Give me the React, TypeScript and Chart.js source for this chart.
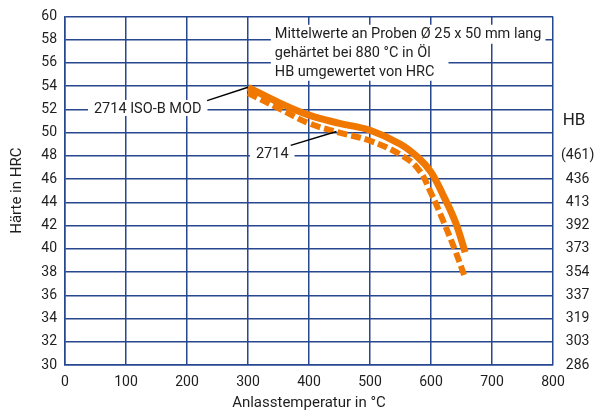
import React, { useEffect, useRef } from 'react';
import { Chart, registerables } from 'chart.js';

Chart.register(...registerables);

// ---- data ----
const temperatures = [300, 350, 400, 450, 500, 550, 580, 600, 620, 640, 656];
const hrcIsoBMod = [53.9, 52.6, 51.5, 50.8, 50.2, 49.0, 47.8, 46.6, 44.6, 42.3, 39.7];
const hrc2714 = [53.4, 52.1, 50.8, 50.0, 49.3, 48.1, 46.8, 44.8, 42.4, 39.8, 37.5];
const seriesNames = ['2714 ISO-B MOD', '2714'];

const hbAtHrc = [48, 46, 44, 42, 40, 38, 36, 34, 32, 30];
const hbLabels = ['(461)', '436', '413', '392', '373', '354', '337', '319', '303', '286'];

const noteLines = [
  'Mittelwerte an Proben Ø 25 x 50 mm lang',
  'gehärtet bei 880 °C in Öl',
  'HB umgewertet von HRC',
];
const xTitle = 'Anlasstemperatur in °C';
const yTitle = 'Härte in HRC';
const rightTitle = 'HB';

// ---- styles ----
const ORANGE = '#f07800';
const GRID = '#27478f';
const TEXT = '#1e1e1e';
const FONT = 'Roboto';

const notesPlugin = {
  id: 'notes',
  afterDatasetsDraw(chart: any) {
    const { ctx, scales } = chart;
    const x = scales.x;
    const y = scales.y;
    const px = (v: number) => x.getPixelForValue(v);
    const py = (v: number) => y.getPixelForValue(v);
    ctx.save();
    ctx.font = `14.5px ${FONT}`;
    ctx.textBaseline = 'middle';
    ctx.textAlign = 'left';

    // note block
    const nx = px(344);
    const lineYs = [58.55, 56.9, 55.28].map(py);
    const widths = noteLines.map((t) => ctx.measureText(t).width);
    ctx.fillStyle = '#ffffff';
    ctx.fillRect(nx - 4, lineYs[0] - 8.5, widths[0] + 8, 19);
    const w23 = Math.max(widths[1], widths[2]) + 14;
    ctx.fillRect(nx - 4, lineYs[1] - 9.5, w23 + 4, lineYs[2] - lineYs[1] + 19);
    ctx.fillStyle = TEXT;
    noteLines.forEach((t, i) => ctx.fillText(t, nx, lineYs[i] + 1));

    // series labels with leaders
    const labels = [
      { text: seriesNames[0], tx: 47.5, ty: 52.12, from: [233, 52.75], to: [300, hrcIsoBMod[0]] },
      { text: seriesNames[1], tx: 313, ty: 48.2, from: [370, 48.9], to: [445, 50.1] },
    ];
    labels.forEach((l) => {
      const w = ctx.measureText(l.text).width;
      const lx = px(l.tx);
      const ly = py(l.ty);
      ctx.fillStyle = '#ffffff';
      ctx.fillRect(lx - 6, ly - 8, w + 12, 16);
      ctx.fillStyle = TEXT;
      ctx.fillText(l.text, lx, ly + 1);
      ctx.strokeStyle = '#000000';
      ctx.lineWidth = 1.5;
      ctx.beginPath();
      ctx.moveTo(px(l.from[0]), py(l.from[1]));
      ctx.lineTo(px(l.to[0]), py(l.to[1]));
      ctx.stroke();
    });

    // HB title on right axis
    const r = scales.yRight;
    ctx.font = `17px ${FONT}`;
    ctx.textAlign = 'center';
    ctx.fillStyle = TEXT;
    ctx.fillText(rightTitle, (r.left + r.right) / 2 - 1, py(51));
    ctx.restore();
  },
};

export default function App() {
  const ref = useRef<HTMLCanvasElement | null>(null);

  useEffect(() => {
    if (!ref.current) return;
    const chart = new Chart(ref.current, {
      type: 'line',
      data: {
        datasets: [
          {
            label: seriesNames[0],
            data: temperatures.map((t, i) => ({ x: t, y: hrcIsoBMod[i] })),
            borderColor: ORANGE,
            borderWidth: 7,
            pointRadius: 0,
            tension: 0.4,
            borderCapStyle: 'butt',
            fill: false,
          },
          {
            label: seriesNames[1],
            data: temperatures.map((t, i) => ({ x: t, y: hrc2714[i] })),
            borderColor: ORANGE,
            borderWidth: 6,
            borderDash: [10, 4],
            pointRadius: 0,
            tension: 0.4,
            borderCapStyle: 'butt',
            fill: false,
          },
        ],
      },
      options: {
        animation: false,
        responsive: false,
        maintainAspectRatio: false,
        layout: { padding: { top: 14, left: 0, right: 0, bottom: 0 } },
        plugins: { legend: { display: false }, tooltip: { enabled: false } },
        scales: {
          x: {
            type: 'linear',
            min: 0,
            max: 800,
            ticks: { stepSize: 100, color: TEXT, font: { family: FONT, size: 14 }, padding: 9, autoSkip: false, maxRotation: 0 },
            grid: { color: GRID, lineWidth: 1.5, drawTicks: false },
            border: { color: GRID, width: 1.5 },
            title: { display: true, text: xTitle, color: TEXT, font: { family: FONT, size: 15, lineHeight: 1.2 }, padding: { top: 0, bottom: 0 } },
            afterFit: (s: any) => { s.height = 47; },
          },
          y: {
            type: 'linear',
            position: 'left',
            min: 30,
            max: 60,
            ticks: { stepSize: 2, color: TEXT, font: { family: FONT, size: 14 }, padding: 8, autoSkip: false },
            grid: { color: GRID, lineWidth: 1.5, drawTicks: false },
            border: { color: GRID, width: 1.5 },
            title: { display: true, text: yTitle, color: TEXT, font: { family: FONT, size: 15, lineHeight: 1.2 }, padding: { top: 8, bottom: 0 } },
            afterFit: (s: any) => { s.width = 65; },
          },
          yRight: {
            type: 'linear',
            position: 'right',
            min: 30,
            max: 60,
            ticks: {
              stepSize: 2,
              autoSkip: false,
              color: TEXT,
              font: { family: FONT, size: 14 },
              padding: 8,
              crossAlign: 'center',
              callback: (v: any) => {
                const i = hbAtHrc.indexOf(Number(v));
                return i >= 0 ? hbLabels[i] : '';
              },
            },
            grid: { display: false, drawTicks: false },
            border: { display: false },
            afterFit: (s: any) => { s.width = 44; },
          },
        },
      },
      plugins: [notesPlugin],
    } as any);
    return () => chart.destroy();
  }, []);

  return (
    <div style={{ position: 'absolute', left: 0, top: 0, width: 597, height: 412, background: '#fff' }}>
      <canvas ref={ref} width={597} height={412} style={{ width: 597, height: 412, display: 'block' }} />
    </div>
  );
}
